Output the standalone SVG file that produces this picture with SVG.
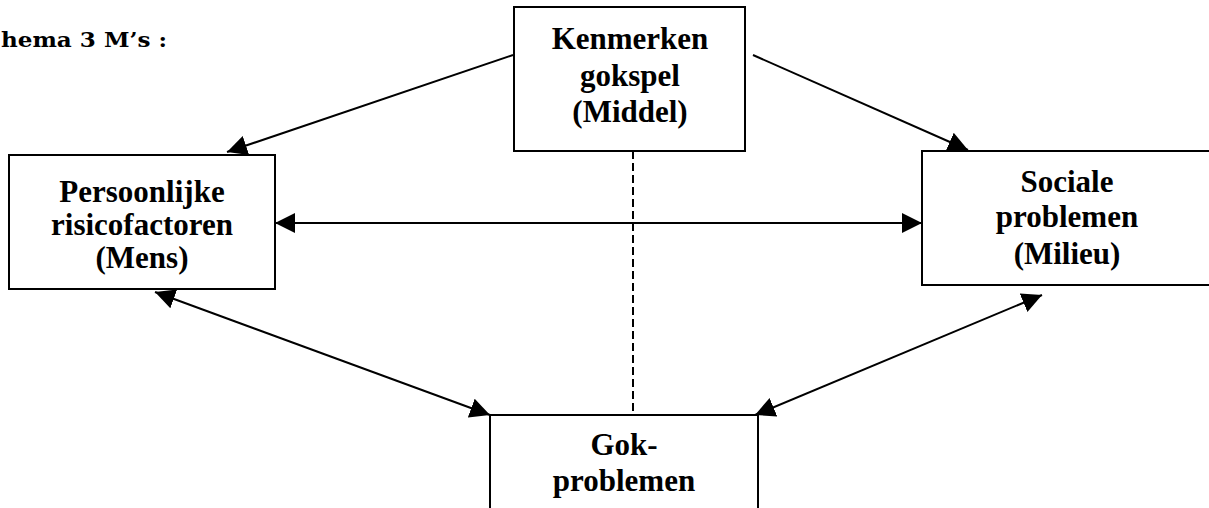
<svg xmlns="http://www.w3.org/2000/svg" width="1209" height="508" viewBox="0 0 1209 508">
<style>
.box{fill:#fff;stroke:#000;stroke-width:2}
.lbl{font-family:"Liberation Serif","Times New Roman",serif;font-weight:bold;font-size:31px;text-anchor:middle;fill:#000}
.title{font-family:"DejaVu Serif",serif;font-weight:bold;font-size:21px;fill:#000}
.con{stroke:#000;stroke-width:2;fill:none}
</style>
<defs>
<marker id="ah" markerUnits="userSpaceOnUse" markerWidth="21" markerHeight="21" refX="20" refY="10" orient="auto-start-reverse" viewBox="0 0 21 21">
<path d="M0,0 L20,10 L0,20 z" fill="#000"/>
</marker>
</defs>
<rect width="1209" height="508" fill="#fff"/>
<text class="title" x="1" y="47" textLength="166" lengthAdjust="spacingAndGlyphs">hema 3 M’s :</text>
<g id="connectors">
<line class="con" x1="513" y1="55" x2="227" y2="152" marker-end="url(#ah)"/>
<line class="con" x1="753" y1="55" x2="968" y2="150" marker-end="url(#ah)"/>
<line class="con" x1="275" y1="223" x2="922" y2="223" marker-start="url(#ah)" marker-end="url(#ah)"/>
<line class="con" x1="155" y1="292" x2="490" y2="415" marker-start="url(#ah)" marker-end="url(#ah)"/>
<line class="con" x1="1042" y1="295" x2="755" y2="415" marker-start="url(#ah)" marker-end="url(#ah)"/>
<line class="con" x1="633" y1="151" x2="633" y2="415" stroke-dasharray="8,4"/>
</g>
<g id="middel">
<rect class="box" x="514" y="7" width="231" height="144"/>
<text class="lbl" x="630" y="49">Kenmerken</text>
<text class="lbl" x="630" y="86">gokspel</text>
<text class="lbl" x="630" y="122">(Middel)</text>
</g>
<g id="mens">
<rect class="box" x="9" y="155" width="266" height="134"/>
<text class="lbl" x="142" y="202">Persoonlijke</text>
<text class="lbl" x="142" y="235">risicofactoren</text>
<text class="lbl" x="142" y="268">(Mens)</text>
</g>
<g id="milieu">
<rect class="box" x="922" y="151" width="300" height="134"/>
<text class="lbl" x="1067" y="192">Sociale</text>
<text class="lbl" x="1067" y="227">problemen</text>
<text class="lbl" x="1067" y="264">(Milieu)</text>
</g>
<g id="gokproblemen">
<rect class="box" x="490" y="415" width="268" height="110"/>
<text class="lbl" x="624" y="455">Gok-</text>
<text class="lbl" x="624" y="491">problemen</text>
</g>
</svg>
